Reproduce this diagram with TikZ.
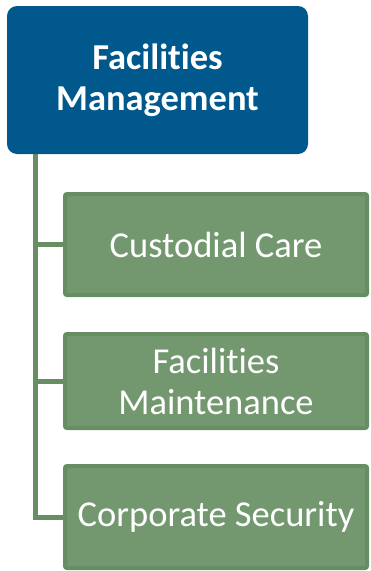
\documentclass[tikz,border=0pt]{standalone}
\usepackage{fontspec}
\setmainfont[Ligatures={NoCommon,NoContextual}]{Carlito}
\usepackage{tikz}
\usetikzlibrary{positioning}

\definecolor{fmblue}{RGB}{0,88,140}
\definecolor{unitfill}{RGB}{115,152,111}
\definecolor{unitline}{RGB}{103,141,98}

\tikzset{
  head/.style={fill=fmblue, rounded corners=10pt, text=white, align=center,
    font=\fontsize{36.5}{41}\selectfont\bfseries, minimum width=301pt, minimum height=148pt, inner sep=0pt},
  unit/.style={fill=unitfill, draw=unitline, line width=4pt, rounded corners=2pt, text=white, align=center,
    font=\fontsize{36.5}{41}\selectfont, minimum width=302pt, inner sep=0pt},
  branch/.style={draw=unitline, line width=5pt, line join=miter}
}

\begin{document}
\begin{tikzpicture}[x=1pt, y=-1pt]
  \useasboundingbox (0,0) rectangle (370,571);
  \node[head] (fm) at (157.5,80) {Facilities\\Management};
  \node[unit, minimum height=101pt] (cc) at (216,244.5) {Custodial Care};
  \node[unit, minimum height=94pt] (maint) at (216,381) {Facilities\\Maintenance};
  \node[unit, minimum height=102pt] (sec) at (216,517) {Corporate Security};
  \coordinate (trunk) at (35,154);
  \path[branch]
  (trunk) |- (sec.west)
  (trunk) |- (cc.west)
  (trunk) |- (maint.west)
  ;
\end{tikzpicture}
\end{document}
